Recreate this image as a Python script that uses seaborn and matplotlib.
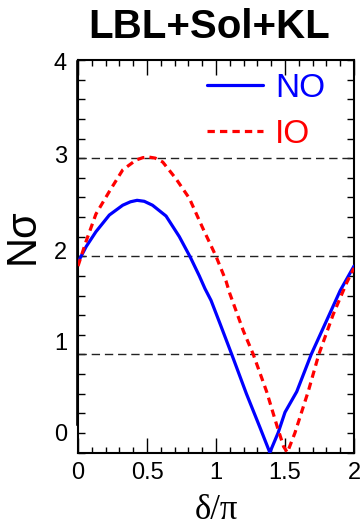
import numpy as np
import pandas as pd
import matplotlib
matplotlib.use('Agg')
import matplotlib.pyplot as plt
from matplotlib.ticker import MultipleLocator
import seaborn as sns

# data (delta/pi, N sigma)
no_x = [0.0, 0.06, 0.13, 0.227, 0.324, 0.38, 0.428, 0.48, 0.54, 0.638, 0.734, 0.814,
        0.879, 0.92, 0.964, 1.03, 1.114, 1.22, 1.32, 1.39, 1.45, 1.50, 1.585, 1.69,
        1.80, 1.90, 2.0]
no_y = [1.94, 2.10, 2.25, 2.42, 2.52, 2.555, 2.57, 2.56, 2.52, 2.41, 2.20, 1.99,
        1.80, 1.67, 1.55, 1.31, 1.00, 0.60, 0.25, 0.0, 0.20, 0.41, 0.62, 1.00,
        1.34, 1.65, 1.90]

io_x = [0.0, 0.058, 0.13, 0.227, 0.324, 0.42, 0.47, 0.517, 0.56, 0.614, 0.71, 0.807,
        0.903, 1.0, 1.072, 1.10, 1.198, 1.27, 1.367, 1.44, 1.49, 1.517, 1.572, 1.67,
        1.745, 1.85, 1.947, 2.0]
io_y = [1.90, 2.15, 2.43, 2.66, 2.88, 2.98, 3.005, 3.01, 3.0, 2.96, 2.79, 2.59,
        2.29, 2.00, 1.75, 1.62, 1.24, 1.00, 0.62, 0.28, 0.06, 0.0, 0.20, 0.63,
        1.00, 1.41, 1.73, 1.88]

sigma_lines = [1, 2, 3]
ytick_labels = ['0', '1', '2', '3', '4']
ytick_label_pos = [0.2, 1.13, 2.06, 3.04, 3.98]
xticks = [0, 0.5, 1, 1.5, 2]
xtick_labels = ['0', '0.5', '1', '1.5', '2']

sns.set_style('ticks')
plt.rcParams['font.family'] = ['Liberation Sans', 'DejaVu Sans']
plt.rcParams['text.color'] = 'black'
plt.rcParams['axes.labelcolor'] = 'black'
plt.rcParams['xtick.color'] = 'black'
plt.rcParams['ytick.color'] = 'black'

fig = plt.figure(figsize=(3.62, 5.29), dpi=100)
ax = fig.add_axes([78/362, 1 - 452.5/529, 276/362, 392.5/529])

for y in sigma_lines:
    ax.axhline(y, color='#222222', lw=1.0, ls=(0, (6, 3.5)), zorder=1)

sns.lineplot(x=no_x, y=no_y, ax=ax, color='#0000ff', lw=2.3, label='NO', zorder=3)
sns.lineplot(x=io_x, y=io_y, ax=ax, color='#ff0000', lw=2.3, label='IO', zorder=3)
ax.lines[-1].set_dashes((2.3, 1.6))

ax.set_xlim(0, 2)
ax.set_ylim(0, 4)

ax.set_xticks(xticks)
ax.set_xticklabels(xtick_labels)
ax.xaxis.set_minor_locator(MultipleLocator(0.1))
ax.set_yticks(ytick_label_pos)
ax.set_yticklabels(ytick_labels)
ax.yaxis.set_minor_locator(MultipleLocator(0.2))
ax.yaxis.remove_overlapping_locs = False

ax.tick_params(axis='x', which='major', direction='in', length=11, width=1,
               top=True, bottom=True, labelsize=17, pad=7, colors='black')
ax.tick_params(axis='x', which='minor', direction='in', length=4.5, width=1,
               top=True, bottom=True, colors='black')
ax.tick_params(axis='y', which='major', length=0, labelsize=17, pad=8,
               colors='black')
ax.tick_params(axis='y', which='minor', direction='in', length=4.8, width=1,
               left=True, right=True, colors='black')

for s in ax.spines.values():
    s.set_linewidth(1.5)
    s.set_color('black')

# thin second frame line on the left
ax.axvline(-0.012, ymin=0.07, ymax=1.0, color='black', lw=0.6, clip_on=False)

ax.set_title('LBL+Sol+KL', fontsize=29, fontweight='bold', x=0.475, pad=16,
             color='black')
ax.set_ylabel('Nσ', fontsize=30, color='black')
ax.yaxis.set_label_coords(-0.127, 0.55)
ax.set_xlabel('δ/π', fontsize=25, family=['Liberation Serif', 'DejaVu Serif'],
              color='black')
ax.xaxis.set_label_coords(0.5, -0.105)

ax.legend(loc='upper left', bbox_to_anchor=(0.467, 0.967), frameon=False,
          fontsize=24, handlelength=1.68, handletextpad=0.36, labelspacing=0.45,
          borderpad=0, borderaxespad=0, labelcolor='linecolor')

fig.savefig('out.png', dpi=100)
